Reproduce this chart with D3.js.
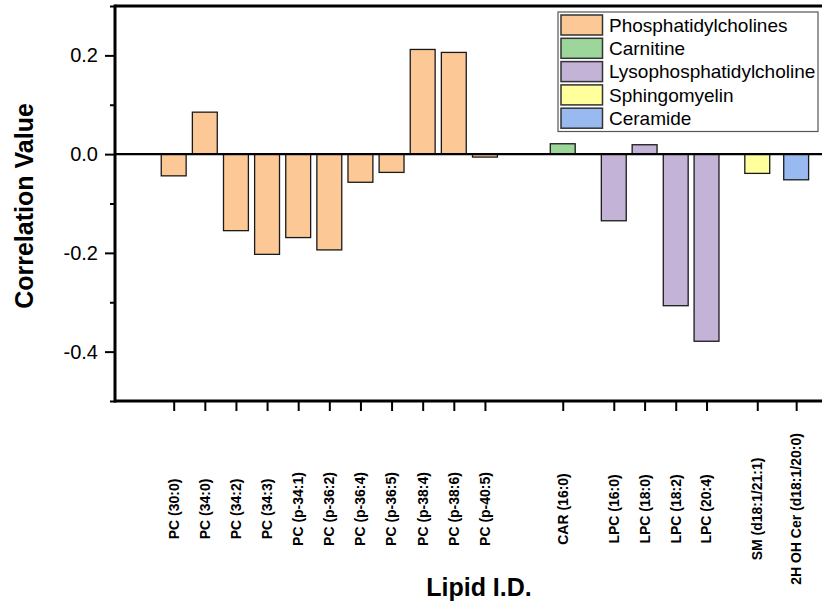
<!DOCTYPE html>
<html>
<head>
<meta charset="utf-8">
<script src="https://cdn.jsdelivr.net/npm/d3@7"></script>
<style>
  html, body { margin: 0; padding: 0; background: #fff; }
  svg { display: block; font-family: Arial, "Liberation Sans", sans-serif; }
</style>
</head>
<body>
<div id="chart"></div>
<script>
// ---- data ----
const lipids = ["PC (30:0)", "PC (34:0)", "PC (34:2)", "PC (34:3)", "PC (p-34:1)", "PC (p-36:2)",
  "PC (p-36:4)", "PC (p-36:5)", "PC (p-38:4)", "PC (p-38:6)", "PC (p-40:5)",
  "CAR (16:0)", "LPC (16:0)", "LPC (18:0)", "LPC (18:2)", "LPC (20:4)",
  "SM (d18:1/21:1)", "2H OH Cer (d18:1/20:0)"];
const xValues = [1, 2, 3, 4, 5, 6, 7, 8, 9, 10, 11, 13.5, 15.14, 16.13, 17.13, 18.12, 19.75, 21.0];
const correlations = [-0.044, 0.085, -0.155, -0.203, -0.169, -0.194, -0.057, -0.037, 0.212, 0.206, -0.006,
  0.021, -0.135, 0.019, -0.307, -0.379, -0.039, -0.052];
const groups = ["Phosphatidylcholines", "Phosphatidylcholines", "Phosphatidylcholines", "Phosphatidylcholines",
  "Phosphatidylcholines", "Phosphatidylcholines", "Phosphatidylcholines", "Phosphatidylcholines",
  "Phosphatidylcholines", "Phosphatidylcholines", "Phosphatidylcholines",
  "Carnitine", "Lysophosphatidylcholine", "Lysophosphatidylcholine", "Lysophosphatidylcholine",
  "Lysophosphatidylcholine", "Sphingomyelin", "Ceramide"];
const legendNames = ["Phosphatidylcholines", "Carnitine", "Lysophosphatidylcholine", "Sphingomyelin", "Ceramide"];
const legendColors = ["#FBC896", "#9DD69B", "#C3B3D6", "#FFFF9B", "#99BAF1"];
const yMajorTicks = [-0.4, -0.2, 0.0, 0.2];
const yMinorTicks = [-0.5, -0.3, -0.1, 0.1, 0.3];

// ---- layout ----
const W = 822, H = 604;
const mLeft = 115, mRight = 822, mTop = 6, mBottom = 401;

const svg = d3.select("#chart").append("svg").attr("width", W).attr("height", H);

const x = d3.scaleLinear().domain([-0.886, 21.83]).range([mLeft, mRight]);
const y = d3.scaleLinear().domain([-0.5, 0.3]).range([mBottom, mTop]);
const color = d3.scaleOrdinal().domain(legendNames).range(legendColors);
const barW = x(1.8) - x(1);

const data = lipids.map((name, i) => ({ name, xv: xValues[i], v: correlations[i], g: groups[i] }));

// bars
svg.append("g").selectAll("rect").data(data).join("rect")
  .attr("x", d => x(d.xv) - barW / 2)
  .attr("y", d => Math.min(y(d.v), y(0)))
  .attr("width", barW)
  .attr("height", d => Math.abs(y(d.v) - y(0)))
  .attr("fill", d => color(d.g))
  .attr("stroke", "#1a1a1a")
  .attr("stroke-width", 1.3);

// zero line
svg.append("line")
  .attr("x1", mLeft).attr("x2", mRight)
  .attr("y1", y(0)).attr("y2", y(0))
  .attr("stroke", "#000").attr("stroke-width", 2.2);

// y axis major
const yAxis = d3.axisLeft(y).tickValues(yMajorTicks).tickSize(10).tickPadding(7)
  .tickFormat(d => d3.format(".1f")(d).replace("\u2212", "-"));
const gy = svg.append("g").attr("transform", `translate(${mLeft},0)`).call(yAxis);
gy.select(".domain").remove();
gy.selectAll(".tick line").attr("stroke", "#000").attr("stroke-width", 2);
gy.selectAll(".tick text").attr("font-size", 20).attr("fill", "#000")
  .attr("font-family", "Arial, 'Liberation Sans', sans-serif");

// y axis minor
const yAxisMinor = d3.axisLeft(y).tickValues(yMinorTicks).tickSize(5).tickFormat("");
const gym = svg.append("g").attr("transform", `translate(${mLeft},0)`).call(yAxisMinor);
gym.select(".domain").remove();
gym.selectAll(".tick line").attr("stroke", "#000").attr("stroke-width", 2);

// x axis
const xAxis = d3.axisBottom(x).tickValues(xValues).tickSize(10).tickFormat("");
const gx = svg.append("g").attr("transform", `translate(0,${mBottom})`).call(xAxis);
gx.select(".domain").remove();
gx.selectAll(".tick line").attr("stroke", "#000").attr("stroke-width", 2);

// x tick labels (rotated)
svg.append("g").selectAll("text").data(data).join("text")
  .attr("transform", d => `translate(${x(d.xv)},509) rotate(-90)`)
  .attr("text-anchor", "middle")
  .attr("dy", "0.35em")
  .attr("font-size", 14)
  .attr("font-weight", "bold")
  .attr("fill", "#000")
  .text(d => d.name);

// frame lines
svg.append("line").attr("x1", mLeft).attr("x2", mLeft).attr("y1", mTop - 1.5).attr("y2", mBottom + 1.5)
  .attr("stroke", "#000").attr("stroke-width", 3);
svg.append("line").attr("x1", mLeft).attr("x2", mRight).attr("y1", mTop).attr("y2", mTop)
  .attr("stroke", "#000").attr("stroke-width", 3);
svg.append("line").attr("x1", mLeft).attr("x2", mRight).attr("y1", mBottom).attr("y2", mBottom)
  .attr("stroke", "#000").attr("stroke-width", 3);

// axis titles
svg.append("text")
  .attr("transform", "translate(33,206) rotate(-90)")
  .attr("text-anchor", "middle")
  .attr("font-size", 25).attr("font-weight", "bold").attr("fill", "#000")
  .text("Correlation Value");
svg.append("text")
  .attr("x", 479).attr("y", 596)
  .attr("text-anchor", "middle")
  .attr("font-size", 25).attr("font-weight", "bold").attr("fill", "#000")
  .text("Lipid I.D.");

// legend
const lg = svg.append("g").attr("transform", "translate(558,12)");
lg.append("rect").attr("x", 0).attr("y", 0).attr("width", 260).attr("height", 119.5)
  .attr("fill", "#fff").attr("stroke", "#555").attr("stroke-width", 1.2);
const rows = lg.selectAll("g.row").data(legendNames).join("g")
  .attr("class", "row")
  .attr("transform", (d, i) => `translate(0,${3 + i * 23.3})`);
rows.append("rect").attr("x", 3).attr("y", 0).attr("width", 41.5).attr("height", 20)
  .attr("fill", d => color(d)).attr("stroke", "#333").attr("stroke-width", 1.5);
rows.append("text").attr("x", 51).attr("y", 10).attr("dy", "0.36em")
  .attr("font-size", 19).attr("fill", "#000")
  .text(d => d);
</script>
</body>
</html>
